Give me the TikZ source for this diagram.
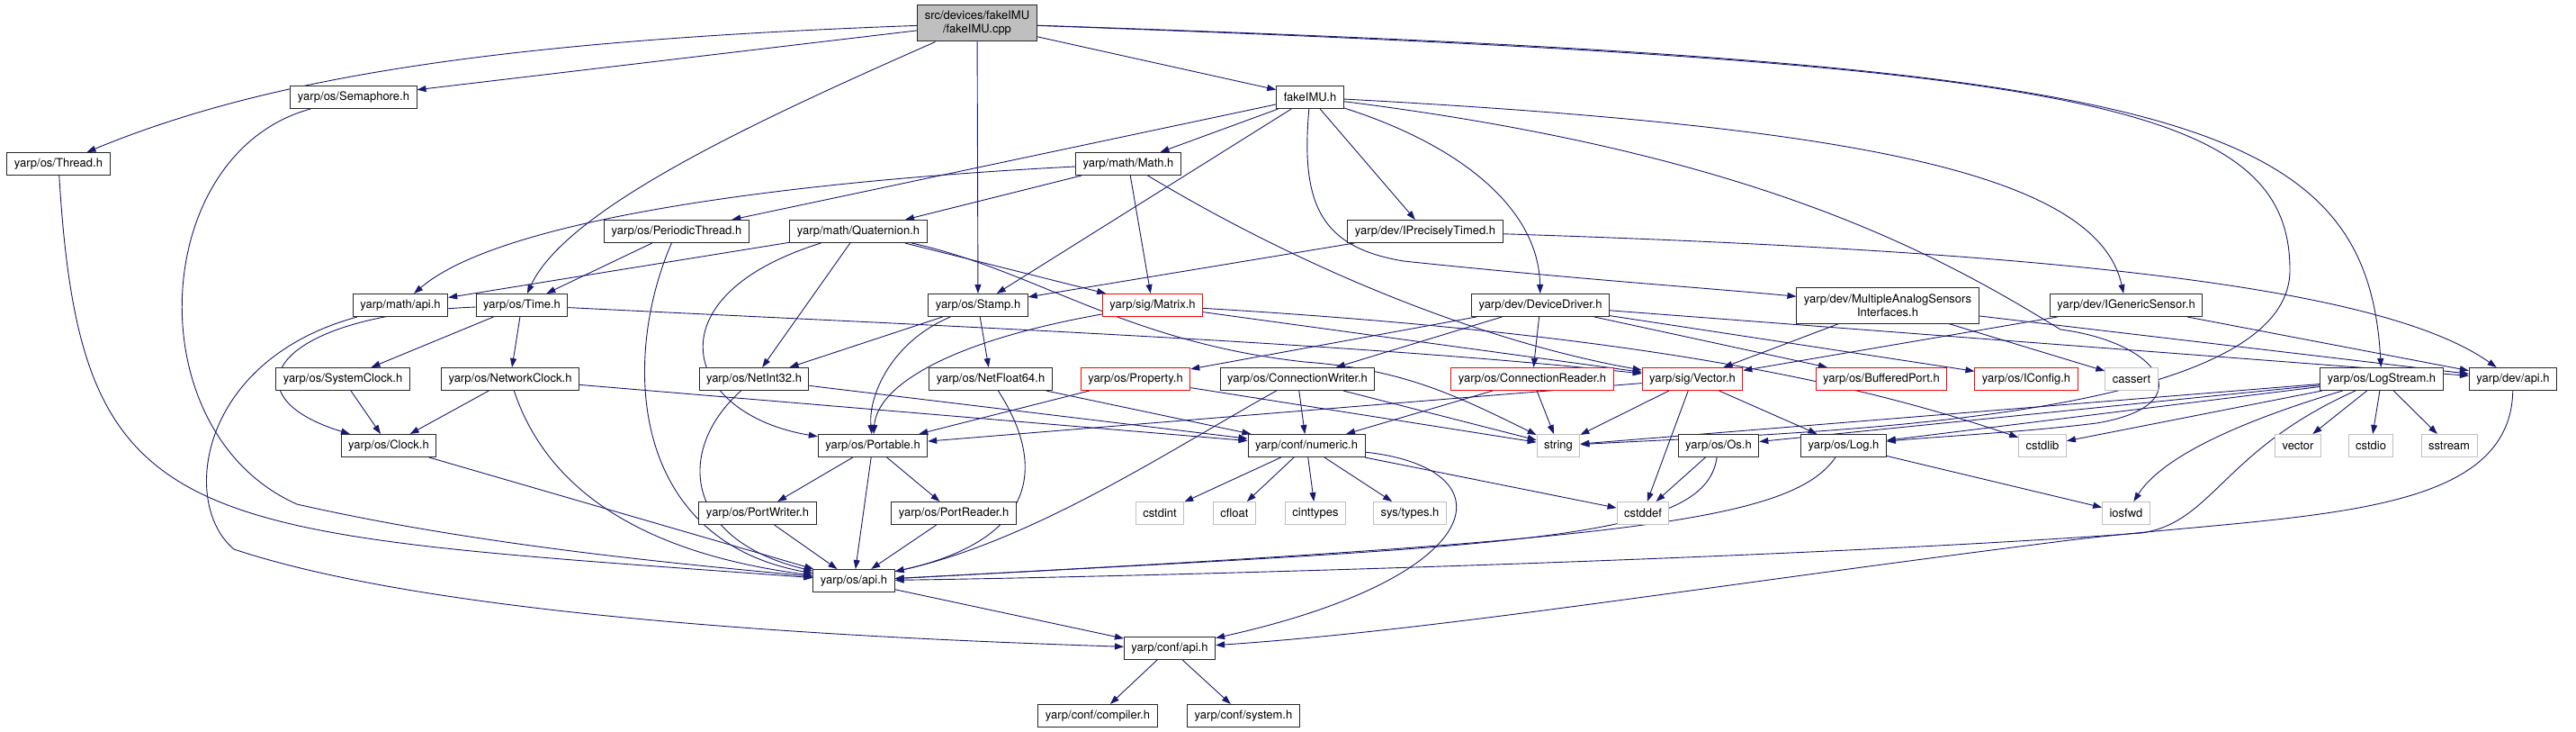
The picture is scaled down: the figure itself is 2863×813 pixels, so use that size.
\documentclass[tikz,border=0pt]{standalone}
\usepackage{fontspec}
\setmainfont{TeX Gyre Heros}
\usepackage{tikz}
\usetikzlibrary{arrows.meta}
\usetikzlibrary{backgrounds}
\definecolor{edgeblue}{HTML}{191970}
\definecolor{sysgray}{HTML}{BFBFBF}

\begin{document}
\begin{tikzpicture}[x=1pt, y=-1pt,
  every node/.style={font=\fontsize{13}{15}\selectfont},
  hdr/.style={draw=black!85, line width=1pt, fill=white, inner xsep=8pt, inner ysep=0pt, minimum height=25pt},
  redhdr/.style={hdr, draw=red},
  syshdr/.style={hdr, draw=sysgray},
  srcfile/.style={hdr, fill=sysgray, align=center, minimum height=40pt},
  inc/.style={draw=edgeblue, line width=0.9pt, -{Triangle[length=10pt,width=7pt]}}]
\useasboundingbox (0,0) rectangle (2863,813);

\node[srcfile] (cpp) at (1086,26) {src/devices/fakeIMU\\/fakeIMU.cpp};
\node[hdr] (fimuh) at (1456,108) {fakeIMU.h};
\node[hdr] (semaphore) at (393,108) {yarp/os/Semaphore.h};
\node[hdr] (thread) at (65,182) {yarp/os/Thread.h};
\node[hdr] (math) at (1254,182) {yarp/math/Math.h};
\node[hdr] (periodic) at (752,257) {yarp/os/PeriodicThread.h};
\node[hdr] (quat) at (954,257) {yarp/math/Quaternion.h};
\node[hdr] (iptimed) at (1584,257) {yarp/dev/IPreciselyTimed.h};
\node[hdr] (mathapi) at (445,339) {yarp/math/api.h};
\node[hdr] (time) at (580,339) {yarp/os/Time.h};
\node[hdr] (stamp) at (1087,339) {yarp/os/Stamp.h};
\node[redhdr] (matrix) at (1281,339) {yarp/sig/Matrix.h};
\node[hdr] (devdriver) at (1712,339) {yarp/dev/DeviceDriver.h};
\node[hdr, align=center, minimum height=40pt] (masi) at (2098,339) {yarp/dev/MultipleAnalogSensors\\Interfaces.h};
\node[hdr] (igeneric) at (2363,339) {yarp/dev/IGenericSensor.h};
\node[hdr] (sysclock) at (381,421) {yarp/os/SystemClock.h};
\node[hdr] (netclock) at (567,421) {yarp/os/NetworkClock.h};
\node[hdr] (netint) at (838,421) {yarp/os/NetInt32.h};
\node[hdr] (netfloat) at (1101,421) {yarp/os/NetFloat64.h};
\node[redhdr] (property) at (1262,421) {yarp/os/Property.h};
\node[hdr] (connwriter) at (1442,421) {yarp/os/ConnectionWriter.h};
\node[redhdr] (connreader) at (1703,421) {yarp/os/ConnectionReader.h};
\node[redhdr] (vector) at (1881,421) {yarp/sig/Vector.h};
\node[redhdr] (bufport) at (2091,421) {yarp/os/BufferedPort.h};
\node[redhdr] (iconfig) at (2252,421) {yarp/os/IConfig.h};
\node[syshdr] (cassert) at (2369,421) {cassert};
\node[hdr] (logstream) at (2647,421) {yarp/os/LogStream.h};
\node[hdr] (devapi) at (2793,421) {yarp/dev/api.h};
\node[hdr] (clock) at (432,495) {yarp/os/Clock.h};
\node[hdr] (portable) at (970,495) {yarp/os/Portable.h};
\node[hdr] (numeric) at (1452,495) {yarp/conf/numeric.h};
\node[syshdr] (str) at (1732,495) {string};
\node[hdr] (os) at (1910,495) {yarp/os/Os.h};
\node[hdr] (log) at (2049,495) {yarp/os/Log.h};
\node[syshdr] (cstdlib) at (2270,495) {cstdlib};
\node[syshdr] (vec) at (2554,495) {vector};
\node[syshdr] (cstdio) at (2635,495) {cstdio};
\node[syshdr] (sstream) at (2722,495) {sstream};
\node[hdr] (portwriter) at (842,570) {yarp/os/PortWriter.h};
\node[hdr] (portreader) at (1060,570) {yarp/os/PortReader.h};
\node[syshdr] (cstdint) at (1289,570) {cstdint};
\node[syshdr] (cfloat) at (1372,570) {cfloat};
\node[syshdr] (cinttypes) at (1462,570) {cinttypes};
\node[syshdr] (systypes) at (1567,570) {sys/types.h};
\node[syshdr] (cstddef) at (1826,570) {cstddef};
\node[syshdr] (iosfwd) at (2363,570) {iosfwd};
\node[hdr] (osapi) at (949,645) {yarp/os/api.h};
\node[hdr] (confapi) at (1300,720) {yarp/conf/api.h};
\node[hdr] (compiler) at (1220,795) {yarp/conf/compiler.h};
\node[hdr] (system) at (1382,795) {yarp/conf/system.h};

\begin{scope}[on background layer]
\draw[inc] (cpp) .. controls (560,45) and (300,85) .. (thread);
\draw[inc] (cpp) -- (semaphore);
\draw[inc] (cpp) .. controls (850,130) and (630,230) .. (time);
\draw[inc] (cpp) -- (stamp);
\draw[inc] (cpp) -- (fimuh);
\draw[inc] (cpp) .. controls (2400,70) and (2630,120) .. (logstream);
\draw[inc] (cpp) .. controls (2300,70) and (2545,110) .. (2545,300) .. controls (2545,470) and (2000,480) .. (str);

\draw[inc] (fimuh) -- (periodic);
\draw[inc] (fimuh) -- (math);
\draw[inc] (fimuh) -- (stamp);
\draw[inc] (fimuh) .. controls (1445,230) and (1470,275) .. (1560,290) .. controls (1750,310) and (1900,320) .. (masi);
\draw[inc] (fimuh) -- (iptimed);
\draw[inc] (fimuh) .. controls (1620,160) and (1710,230) .. (devdriver);
\draw[inc] (fimuh) .. controls (2050,140) and (2330,190) .. (igeneric);
\draw[inc] (fimuh) .. controls (1950,170) and (2150,280) .. (2290,366) .. controls (2400,380) and (2450,450) .. (2330,470) .. controls (2250,480) and (2150,485) .. (log);

\draw[inc] (math) .. controls (900,200) and (560,240) .. (mathapi);
\draw[inc] (math) -- (quat);
\draw[inc] (math) -- (matrix);
\draw[inc] (math) .. controls (1450,300) and (1650,380) .. (vector);

\draw[inc] (quat) -- (mathapi);
\draw[inc] (quat) .. controls (720,330) and (760,460) .. (portable);
\draw[inc] (quat) -- (netint);
\draw[inc] (quat) -- (matrix);
\draw[inc] (quat) .. controls (1150,300) and (1250,380) .. (1450,402) .. controls (1560,410) and (1620,440) .. (str);

\draw[inc] (periodic) -- (time);
\draw[inc] (periodic) .. controls (690,400) and (700,600) .. (osapi);
\draw[inc] (iptimed) -- (stamp);
\draw[inc] (iptimed) .. controls (2300,280) and (2650,320) .. (devapi);

\draw[inc] (thread) .. controls (90,600) and (200,590) .. (osapi);
\draw[inc] (semaphore) .. controls (165,170) and (150,480) .. (330,560) .. controls (550,610) and (800,630) .. (osapi);
\draw[inc] (mathapi) .. controls (220,400) and (200,560) .. (260,610) .. controls (500,690) and (1000,710) .. (confapi);

\draw[inc] (time) -- (sysclock);
\draw[inc] (time) -- (netclock);
\draw[inc] (time) .. controls (300,350) and (250,440) .. (clock);
\draw[inc] (time) .. controls (1000,360) and (1500,380) .. (vector);
\draw[inc] (sysclock) -- (clock);
\draw[inc] (netclock) -- (clock);
\draw[inc] (netclock) .. controls (600,520) and (680,610) .. (osapi);
\draw[inc] (netclock) -- (numeric);
\draw[inc] (clock) -- (osapi);

\draw[inc] (stamp) -- (netint);
\draw[inc] (stamp) .. controls (990,380) and (965,440) .. (portable);
\draw[inc] (stamp) -- (netfloat);
\draw[inc] (netint) -- (numeric);
\draw[inc] (netint) .. controls (750,500) and (760,600) .. (osapi);
\draw[inc] (netfloat) -- (numeric);
\draw[inc] (netfloat) .. controls (1165,520) and (1150,600) .. (osapi);

\draw[inc] (matrix) .. controls (1050,380) and (975,430) .. (portable);
\draw[inc] (matrix) -- (vector);
\draw[inc] (matrix) .. controls (1800,370) and (2050,420) .. (cstdlib);

\draw[inc] (devdriver) -- (property);
\draw[inc] (devdriver) -- (connwriter);
\draw[inc] (devdriver) -- (connreader);
\draw[inc] (devdriver) -- (bufport);
\draw[inc] (devdriver) -- (iconfig);
\draw[inc] (devdriver) -- (devapi);

\draw[inc] (property) -- (portable);
\draw[inc] (property) -- (str);
\draw[inc] (connwriter) -- (numeric);
\draw[inc] (connwriter) -- (str);
\draw[inc] (connwriter) .. controls (1300,500) and (1150,600) .. (osapi);
\draw[inc] (connreader) -- (numeric);
\draw[inc] (connreader) -- (str);

\draw[inc] (vector) -- (portable);
\draw[inc] (vector) -- (str);
\draw[inc] (vector) -- (cstddef);
\draw[inc] (vector) -- (log);

\draw[inc] (masi) -- (vector);
\draw[inc] (masi) -- (cassert);
\draw[inc] (masi) -- (devapi);
\draw[inc] (igeneric) -- (vector);
\draw[inc] (igeneric) -- (devapi);

\draw[inc] (logstream) -- (os);
\draw[inc] (logstream) -- (log);
\draw[inc] (logstream) -- (cstdlib);
\draw[inc] (logstream) -- (str);
\draw[inc] (logstream) -- (vec);
\draw[inc] (logstream) -- (cstdio);
\draw[inc] (logstream) -- (sstream);
\draw[inc] (logstream) .. controls (2450,480) and (2395,520) .. (iosfwd);
\draw[inc] (logstream) .. controls (2470,500) and (2460,580) .. (2380,592) .. controls (2000,620) and (1300,640) .. (osapi);

\draw[inc] (numeric) -- (cstdint);
\draw[inc] (numeric) -- (cfloat);
\draw[inc] (numeric) -- (cinttypes);
\draw[inc] (numeric) -- (systypes);
\draw[inc] (numeric) -- (cstddef);
\draw[inc] (numeric) .. controls (1680,520) and (1660,640) .. (confapi);

\draw[inc] (portable) -- (portwriter);
\draw[inc] (portable) -- (portreader);
\draw[inc] (portable) -- (osapi);
\draw[inc] (portwriter) -- (osapi);
\draw[inc] (portreader) -- (osapi);

\draw[inc] (os) -- (cstddef);
\draw[inc] (os) .. controls (1895,600) and (1700,605) .. (osapi);
\draw[inc] (log) .. controls (1990,580) and (1800,600) .. (osapi);
\draw[inc] (log) -- (iosfwd);

\draw[inc] (osapi) -- (confapi);
\draw[inc] (devapi) .. controls (2790,580) and (2550,570) .. (2300,600) .. controls (1900,650) and (1600,700) .. (confapi);
\draw[inc] (confapi) -- (compiler);
\draw[inc] (confapi) -- (system);
\end{scope}
\end{tikzpicture}
\end{document}
